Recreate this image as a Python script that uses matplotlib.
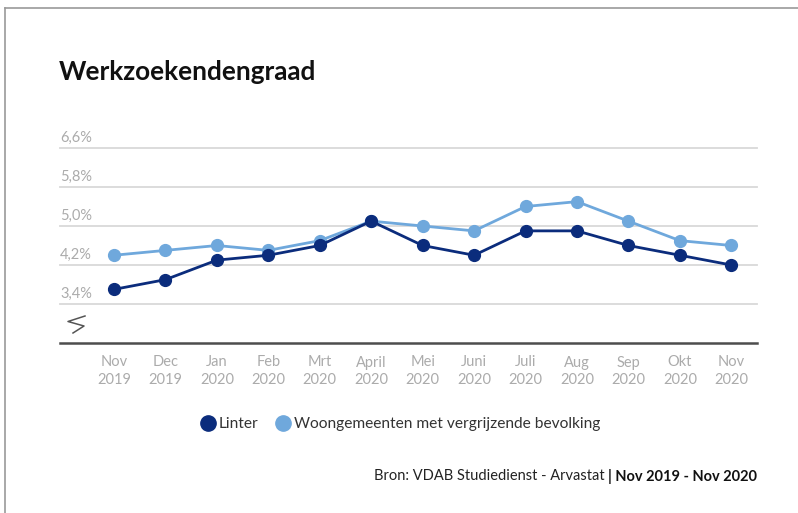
import matplotlib
matplotlib.use("Agg")
import matplotlib.pyplot as plt
from matplotlib.lines import Line2D

plt.rcParams['font.family'] = ['Lato', 'DejaVu Sans']

months = ["Nov\n2019", "Dec\n2019", "Jan\n2020", "Feb\n2020", "Mrt\n2020", "April\n2020",
          "Mei\n2020", "Juni\n2020", "Juli\n2020", "Aug\n2020", "Sep\n2020", "Okt\n2020", "Nov\n2020"]
linter = [3.7, 3.9, 4.3, 4.4, 4.6, 5.1, 4.6, 4.4, 4.9, 4.9, 4.6, 4.4, 4.2]
woongemeenten = [4.4, 4.5, 4.6, 4.5, 4.7, 5.1, 5.0, 4.9, 5.4, 5.5, 5.1, 4.7, 4.6]
y_ticks = [3.4, 4.2, 5.0, 5.8, 6.6]
y_tick_labels = ["3,4%", "4,2%", "5,0%", "5,8%", "6,6%"]

dark = "#0b2c7c"
light = "#6fa8dc"
W, H = 798, 513

fig = plt.figure(figsize=(W / 100, H / 100), dpi=100)
fig.patch.set_facecolor("white")

# axes box in pixel coordinates: left 60, right 757, bottom 343, top 148
ax = fig.add_axes([60 / W, 1 - 343 / H, (757 - 60) / W, (343 - 148) / H])
ax.set_xlim(-1.05, 12.5)
ax.set_ylim(2.6, 6.6)
for s in ["top", "right", "left"]:
    ax.spines[s].set_visible(False)
ax.spines["bottom"].set_color("#4d4d4d")
ax.spines["bottom"].set_linewidth(1.8)
ax.set_yticks([])
ax.tick_params(axis="x", length=0, pad=9, labelsize=10.5, labelcolor="#ababab")
x = list(range(len(months)))
ax.set_xticks(x)
ax.set_xticklabels(months, linespacing=1.3)

for yv, lab in zip(y_ticks, y_tick_labels):
    ax.axhline(yv, color="#d9d9d9", lw=1.3, zorder=1, clip_on=False)
    ax.text(-1.05, yv + 0.06, lab, ha="left", va="bottom", fontsize=10.5,
            color="#ababab")

ax.plot(x, woongemeenten, color=light, lw=2.0, marker="o", ms=8.5, zorder=3, clip_on=False)
ax.plot(x, linter, color=dark, lw=2.0, marker="o", ms=8.5, zorder=4, clip_on=False)

# axis break symbol
bx = [85, 68, 84, 73]
by = [316, 321.5, 326, 333]
fig.add_artist(Line2D([v / W for v in bx], [1 - v / H for v in by],
                      transform=fig.transFigure, color="#555555", lw=1.1))

# title
fig.text(59 / W, 1 - 72 / H, "Werkzoekendengraad", fontsize=18.8, fontweight="bold",
         color="#111111", ha="left", va="center")

# legend
handles = [Line2D([], [], ls="none", marker="o", ms=11, color=dark),
           Line2D([], [], ls="none", marker="o", ms=11, color=light)]
fig.legend(handles, ["Linter", "Woongemeenten met vergrijzende bevolking"],
           loc="center", bbox_to_anchor=(401 / W, 1 - 424 / H), ncol=2, frameon=False,
           fontsize=11.2, handlelength=0.8, handletextpad=0.3, columnspacing=1.2,
           labelcolor="#333333")

# source line: bold period at right, regular text before it
renderer = fig.canvas.get_renderer()
t_bold = fig.text(757 / W, 1 - 476 / H, "| Nov 2019 - Nov 2020", fontsize=10.5,
                  fontweight="bold", color="#111111", ha="right", va="center")
bb = t_bold.get_window_extent(renderer)
fig.text((bb.x0 - 3) / W, 1 - 476 / H, "Bron: VDAB Studiedienst - Arvastat",
         fontsize=10.5, color="#222222", ha="right", va="center")

# outer frame lines (top and left)
fig.add_artist(Line2D([5 / W, 1], [1 - 7.5 / H, 1 - 7.5 / H], transform=fig.transFigure,
                      color="#9a9a9a", lw=1.2))
fig.add_artist(Line2D([5 / W, 5 / W], [0, 1 - 7.5 / H], transform=fig.transFigure,
                      color="#9a9a9a", lw=1.2))

fig.savefig("out.png", dpi=100, facecolor="white")
